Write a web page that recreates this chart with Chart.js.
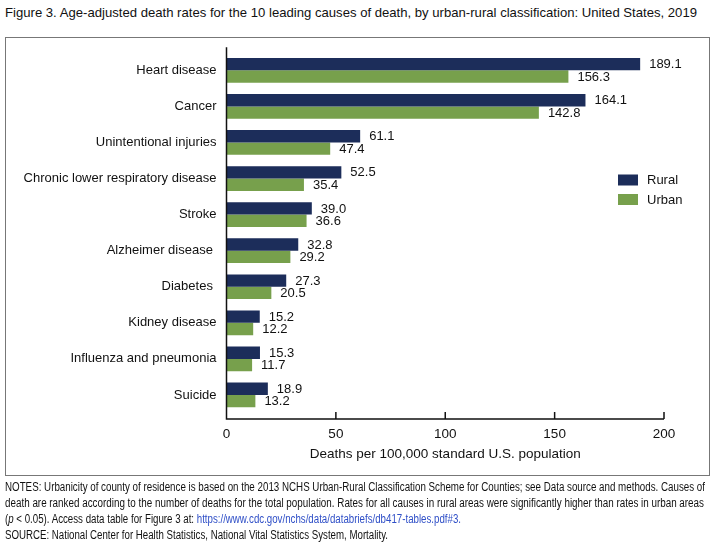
<!DOCTYPE html>
<html lang="en">
<head>
<meta charset="UTF-8">
<title>Figure 3</title>
<style>
    body {
        margin: 0;
        width: 720px;
        height: 557px;
        position: relative;
        background: #fff;
        font-family: "Liberation Sans", Arial, sans-serif;
        color: #111;
        overflow: hidden;
    }

    .fit {
        position: absolute;
        left: 5px;
        white-space: nowrap;
        transform-origin: 0 50%;
    }

    #title {
        top: 5px;
        font-size: 13.5px;
    }

    .note {
        font-size: 12px;
    }

    .note a {
        color: #2f4fc7;
        text-decoration: none;
    }

    #frame {
        position: absolute;
        left: 5px;
        top: 37px;
        width: 703px;
        height: 437px;
        border: 1px solid #777;
    }

    #chart {
        position: absolute;
        left: 0;
        top: 0;
    }
</style>
</head>
<body>
<div id="title" class="fit" data-w="692">Figure 3. Age-adjusted death rates for the 10 leading causes of death, by urban-rural classification: United States, 2019</div>
<div id="frame"></div>
<canvas id="chart" width="720" height="557"></canvas>

<div class="fit note" style="top:480px" data-w="700">NOTES: Urbanicity of county of residence is based on the 2013 NCHS Urban-Rural Classification Scheme for Counties; see Data source and methods. Causes of</div>
<div class="fit note" style="top:496px" data-w="699">death are ranked according to the number of deaths for the total population. Rates for all causes in rural areas were significantly higher than rates in urban areas</div>
<div class="fit note" style="top:512px" data-w="456">(<i>p</i> &lt; 0.05). Access data table for Figure 3 at: <a href="#">https://www.cdc.gov/nchs/data/databriefs/db417-tables.pdf#3.</a></div>
<div class="fit note" style="top:528px" data-w="383">SOURCE: National Center for Health Statistics, National Vital Statistics System, Mortality.</div>

<script src="https://cdn.jsdelivr.net/npm/chart.js"></script>
<script>
    // datos de la figura
    const causes = ['Heart disease', 'Cancer', 'Unintentional injuries', 'Chronic lower respiratory disease',
        'Stroke', 'Alzheimer disease ', 'Diabetes ', 'Kidney disease', 'Influenza and pneumonia', 'Suicide'];
    const rural = [189.1, 164.1, 61.1, 52.5, 39.0, 32.8, 27.3, 15.2, 15.3, 18.9];
    const urban = [156.3, 142.8, 47.4, 35.4, 36.6, 29.2, 20.5, 12.2, 11.7, 13.2];
    const xTicks = [50, 100, 150, 200];

    const fontFamily = '"Liberation Sans", Arial, sans-serif';

    // ajustar ancho de los textos al original
    document.querySelectorAll('.fit').forEach(el => {
        const target = parseFloat(el.dataset.w);
        const w = el.getBoundingClientRect().width;
        el.style.transform = `scaleX(${target / w})`;
    });

    // ejes dibujados a mano (el original tiene marcas hacia adentro)
    const axisLines = {
        id: 'axisLines',
        afterDatasetsDraw(chart) {
            const { ctx, chartArea, scales } = chart;
            const top = chartArea.top - 5;
            const base = chartArea.bottom + 6;
            ctx.save();
            ctx.strokeStyle = '#111';
            ctx.lineWidth = 1.5;
            ctx.beginPath();
            ctx.moveTo(chartArea.left, top);
            ctx.lineTo(chartArea.left, base);
            ctx.lineTo(scales.x.getPixelForValue(200), base);
            xTicks.forEach(v => {
                const px = scales.x.getPixelForValue(v);
                ctx.moveTo(px, base);
                ctx.lineTo(px, base - 7);
            });
            ctx.stroke();
            ctx.restore();
        }
    };

    const valueLabels = {
        id: 'valueLabels',
        afterDatasetsDraw(chart) {
            const { ctx } = chart;
            ctx.save();
            ctx.font = `13px ${fontFamily}`;
            ctx.fillStyle = '#111';
            ctx.textAlign = 'left';
            ctx.textBaseline = 'middle';
            chart.data.datasets.forEach((ds, i) => {
                chart.getDatasetMeta(i).data.forEach((bar, j) => {
                    ctx.fillText(ds.data[j].toFixed(1), bar.x + 9, bar.y + 0.5);
                });
            });
            ctx.restore();
        }
    };

    const sideLegend = {
        id: 'sideLegend',
        afterDraw(chart) {
            const { ctx } = chart;
            ctx.save();
            ctx.font = `13px ${fontFamily}`;
            ctx.textBaseline = 'middle';
            chart.data.datasets.forEach((ds, i) => {
                const y = 180 + i * 19.5;
                ctx.fillStyle = ds.backgroundColor;
                ctx.fillRect(618, y - 5.5, 20, 11);
                ctx.fillStyle = '#111';
                ctx.fillText(ds.label, 647, y + 0.5);
            });
            ctx.restore();
        }
    };

    new Chart(document.getElementById('chart'), {
        type: 'bar',
        data: {
            labels: causes,
            datasets: [
                { label: 'Rural', data: rural, backgroundColor: '#1c2d5a' },
                { label: 'Urban', data: urban, backgroundColor: '#77a04c' }
            ]
        },
        options: {
            indexAxis: 'y',
            responsive: false,
            animation: false,
            devicePixelRatio: 1,
            layout: { padding: { left: 0, top: 52.3, right: 56, bottom: 94.2 } },
            datasets: { bar: { categoryPercentage: 0.685, barPercentage: 1 } },
            plugins: {
                legend: { display: false },
                tooltip: { enabled: false }
            },
            scales: {
                x: {
                    min: 0,
                    max: 200,
                    grid: { display: false, drawTicks: false },
                    border: { display: false },
                    ticks: {
                        stepSize: 50,
                        padding: 13.5,
                        color: '#111',
                        font: { family: fontFamily, size: 13.5 }
                    },
                    title: {
                        display: true,
                        text: 'Deaths per 100,000 standard U.S. population',
                        color: '#111',
                        padding: 0,
                        font: { family: fontFamily, size: 13.5 }
                    },
                    afterFit(scale) { scale.height = 49.8; }
                },
                y: {
                    grid: { display: false, drawTicks: false },
                    border: { display: false },
                    ticks: {
                        padding: 10,
                        color: '#111',
                        font: { family: fontFamily, size: 13 }
                    },
                    afterFit(scale) { scale.width = 226.5; }
                }
            }
        },
        plugins: [axisLines, valueLabels, sideLegend]
    });
</script>
</body>
</html>
